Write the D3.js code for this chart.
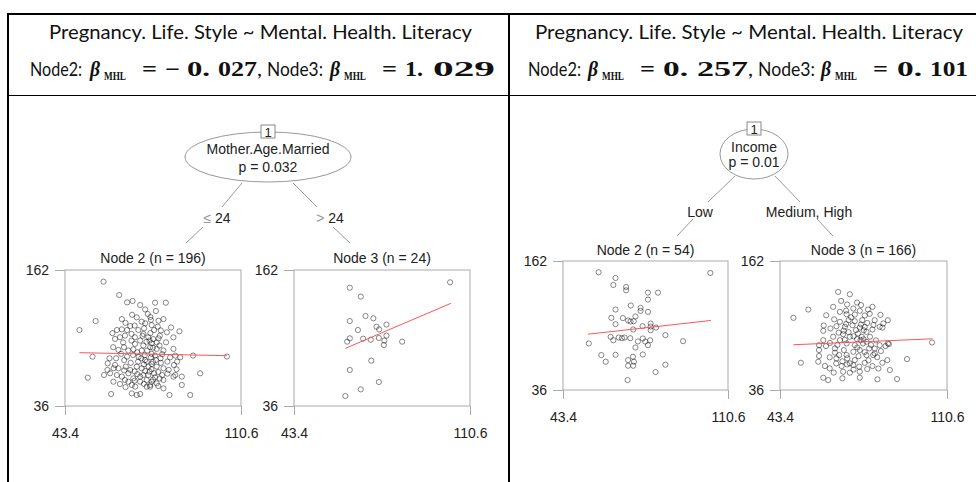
<!DOCTYPE html>
<html>
<head>
<meta charset="utf-8">
<script src="https://cdn.jsdelivr.net/npm/d3@7"></script>
<style>
  body { margin: 0; background: #fff; }
  svg { display: block; }
</style>
</head>
<body>
<div id="chart"></div>
<script>
// header texts
var headerTitle = 'Pregnancy. Life. Style ~ Mental. Health. Literacy';
var betaLeft = [-0.027, 1.029];
var betaRight = [0.257, 0.101];

// tree info
var xDomain = [43.4, 110.6];
var yDomain = [36, 162];
var leftSplit = ['Mother.Age.Married', 'p = 0.032'];
var leftEdges = [['\u2264', ' 24'], ['>', ' 24']];
var leftN = [196, 24];
var rightSplit = ['Income', 'p = 0.01'];
var rightEdges = [['', 'Low'], ['', 'Medium, High']];
var rightN = [54, 166];

// points [Mental.Health.Literacy, Pregnancy.Life.Style]
var leftNode2 = [[58.1,151.2],[64.1,138.8],[67.1,132.0],[69.2,133.3],[72.1,129.6],[77.8,131.7],[81.9,131.7],[78.1,124.0],[75.0,121.2],[70.8,118.1],[55.1,114.7],[48.9,106.4],[65.1,116.5],[63.2,106.4],[65.1,107.0],[68.3,110.1],[72.7,114.1],[74.0,112.6],[76.5,111.0],[81.0,116.5],[79.1,115.0],[83.9,108.8],[87.1,105.2],[84.8,99.6],[82.3,104.3],[79.6,101.1],[77.1,98.0],[78.4,94.9],[76.5,94.1],[75.2,99.7],[73.3,102.8],[71.4,106.4],[68.8,102.8],[66.3,101.2],[64.4,99.7],[62.5,98.1],[65.6,94.9],[68.8,96.6],[70.1,93.5],[73.3,92.0],[74.8,87.4],[76.5,84.3],[78.4,88.9],[81.0,87.4],[84.8,88.9],[85.5,82.7],[87.4,81.2],[92.3,82.7],[105.2,81.8],[53.9,81.7],[61.8,90.5],[63.8,88.0],[64.8,84.3],[60.4,80.2],[62.9,80.2],[67.1,81.7],[69.4,83.3],[72.5,80.2],[71.3,77.1],[74.0,78.6],[76.2,81.1],[78.1,78.6],[79.9,80.2],[82.5,77.1],[85.0,74.0],[86.2,77.1],[59.7,75.5],[62.5,74.0],[59.6,69.4],[60.6,66.3],[63.8,70.9],[66.6,72.5],[68.3,69.4],[70.8,72.5],[72.7,70.9],[75.3,72.5],[76.4,70.1],[78.4,72.5],[81.0,70.9],[83.0,69.4],[63.2,64.7],[65.1,63.2],[67.6,66.3],[69.5,61.6],[72.1,63.2],[75.2,64.7],[77.8,62.6],[80.5,64.7],[84.8,63.2],[85.5,64.7],[88.0,63.2],[95.0,66.3],[52.1,62.2],[61.9,58.5],[64.4,56.4],[67.6,58.5],[70.2,53.9],[72.1,58.5],[75.9,55.5],[78.4,57.0],[81.0,60.1],[88.0,55.5],[61.0,47.1],[68.9,47.7],[70.8,46.2],[72.1,47.1],[75.9,53.9],[83.3,46.2],[91.2,46.2],[81.0,52.3],[74.6,53.9],[75.7,96.6],[77.4,106.4],[79.1,98.7],[75.9,90.5],[77.8,82.7],[74.6,77.1],[76.5,74.9],[75.7,67.8],[77.4,66.3],[74.6,60.1],[76.5,58.5],[71.0,85.8],[72.7,87.4],[67.6,87.4],[65.9,90.5],[70.1,99.7],[67.1,106.4],[73.6,108.0],[76.2,115.8],[72.1,96.6],[73.3,64.7],[68.9,55.5],[66.3,60.1],[58.3,64.7],
  [73.0,101.0],[76.0,103.5],[78.8,109.5],[70.0,110.5],[74.5,95.5],[79.5,92.0],[82.0,95.0],[69.5,88.5],[77.0,90.0],[80.5,84.0],[73.8,83.0],[71.5,81.5],[66.0,78.5],[68.5,76.0],[80.0,76.0],[83.5,81.0],[73.5,74.5],[77.0,77.0],[70.0,68.0],[74.0,68.5],[79.0,67.5],[82.5,66.0],[66.0,69.0],[71.0,65.5],[77.0,60.5],[79.5,61.5],[70.0,59.5],[73.5,56.5],[66.5,53.5],[79.0,54.5],[62.0,71.0],[86.0,70.0],[69.0,120.5],[74.0,125.5],[66.5,113.0],[61.5,103.5],[80.0,106.0],[76.0,118.5]];
var leftNode3 = [[64.7,145.6],[68.9,137.3],[103.0,150.6],[70.7,119.4],[73.7,117.2],[64.7,114.7],[74.9,109.5],[75.9,107.0],[78.7,111.4],[67.8,106.4],[64.7,98.7],[63.7,95.6],[69.8,98.4],[72.7,97.4],[75.8,99.0],[78.7,101.2],[77.9,96.6],[77.7,92.5],[84.7,95.6],[72.9,78.0],[64.7,69.4],[75.8,58.2],[68.9,51.4],[63.0,45.3]];
var rightNode2 = [[57.9,151.0],[103.4,150.3],[64.8,145.4],[63.9,138.6],[69.1,136.6],[69.1,133.4],[78.0,131.1],[82.1,131.1],[78.0,124.3],[71.0,118.5],[75.0,116.2],[75.0,113.3],[78.0,112.3],[64.8,114.6],[63.1,106.5],[67.8,106.2],[69.9,103.9],[72.2,103.2],[72.9,107.8],[64.8,100.3],[75.8,98.3],[79.1,100.9],[79.1,98.0],[81.3,97.0],[79.1,94.4],[72.0,95.1],[62.8,87.9],[63.9,84.6],[66.1,87.3],[67.4,86.6],[70.8,86.6],[73.9,83.4],[75.9,86.3],[78.9,84.6],[78.0,79.8],[85.1,89.6],[92.3,83.7],[53.9,81.5],[72.9,77.5],[59.0,70.1],[64.8,70.4],[60.8,63.6],[71.9,68.5],[69.9,65.2],[72.3,63.6],[75.9,70.7],[69.9,59.7],[72.0,59.7],[85.1,60.7],[81.1,53.5],[69.7,45.7],[70.9,102.9],[76.9,83.3],[68.5,87.3]];
var rightNode3 = [[66.8,131.8],[71.5,129.5],[54.8,114.6],[48.8,106.5],[64.8,117.2],[70.4,119.5],[74.4,121.4],[72.9,115.6],[67.5,112.3],[70.2,110.0],[73.5,109.7],[75.5,113.3],[78.8,114.6],[80.6,117.2],[83.8,109.4],[86.8,104.2],[81.5,104.2],[65.2,105.0],[67.5,102.6],[71.0,104.2],[73.5,103.2],[76.5,104.2],[60.8,93.8],[63.7,96.1],[66.1,98.3],[69.5,97.7],[72.6,99.3],[75.5,97.0],[77.5,97.7],[78.2,92.8],[80.6,95.1],[83.5,97.7],[84.6,97.0],[68.8,90.5],[71.5,88.0],[74.8,91.2],[64.8,88.0],[60.8,84.7],[59.1,79.8],[61.9,78.9],[67.5,84.7],[70.2,81.5],[73.5,79.8],[75.8,84.7],[78.2,83.1],[79.3,76.6],[81.5,71.7],[83.5,79.8],[85.9,78.9],[86.8,81.5],[87.2,80.8],[104.6,82.4],[59.1,75.0],[59.1,69.2],[58.8,63.6],[51.8,62.6],[63.4,67.9],[66.1,66.8],[70.2,70.1],[72.9,73.3],[75.5,75.0],[78.2,70.1],[80.9,70.1],[86.6,65.2],[84.6,62.6],[94.5,66.2],[61.5,59.4],[63.4,57.1],[68.2,59.4],[72.9,60.4],[75.3,58.8],[80.6,59.4],[87.6,55.5],[68.8,53.8],[71.5,52.9],[75.5,53.9],[60.8,48.0],[62.8,45.7],[68.5,47.4],[75.5,48.0],[82.6,46.4],[90.5,46.7],[74.4,85.7],[76.3,88.0],[77.1,94.4],[76.8,81.5],[79.6,88.0],[73.5,65.2],[71.5,62.0],[65.5,76.6],[67.2,70.1],[69.1,75.0],[70.4,61.0],[77.5,108.8],[79.5,110.4],
  [70.0,100.5],[72.0,107.0],[74.0,94.5],[76.0,100.0],[78.5,101.5],[81.0,99.5],[69.0,94.0],[67.0,92.0],[71.0,92.5],[73.0,88.5],[77.0,85.5],[80.0,80.0],[82.0,84.5],[69.5,85.0],[66.5,80.0],[63.5,82.0],[74.5,77.5],[77.5,73.0],[81.5,76.5],[84.0,74.0],[65.5,72.5],[70.5,67.0],[75.0,69.0],[79.0,65.0],[82.5,68.0],[66.0,62.0],[68.5,64.0],[77.5,62.5],[73.0,56.0],[78.5,56.5],[65.0,53.0],[83.0,57.0],[70.0,113.5],[76.0,119.0],[68.0,123.0],[62.0,109.0],[85.0,101.0],[61.0,99.0]];

// fitted lines, end points
var leftNode2FitX = [48.9, 105.2], leftNode2FitY = [85.4, 82.6];
var leftNode3FitX = [63.0, 103.3], leftNode3FitY = [89.4, 131.1];
var rightNode2FitX = [53.6, 103.6], rightNode2FitY = [90.5, 103.9];
var rightNode3FitX = [48.8, 104.8], rightNode3FitY = [80.2, 86.0];

var W = 976, H = 482;
var svg = d3.select('#chart').append('svg')
    .attr('width', W)
    .attr('height', H);

var sans = "'Liberation Sans', Arial, sans-serif";
var cal = "Lato, 'Open Sans', sans-serif";
var serif = "'Liberation Serif', 'DejaVu Serif', serif";

// ---- table lines
var grid = svg.append('g').attr('stroke', '#000');
grid.append('line').attr('x1', 7).attr('x2', W).attr('y1', 14).attr('y2', 14).attr('stroke-width', 2);
grid.append('line').attr('x1', 8).attr('x2', 8).attr('y1', 13).attr('y2', H).attr('stroke-width', 2);
grid.append('line').attr('x1', 509).attr('x2', 509).attr('y1', 13).attr('y2', H).attr('stroke-width', 2);
grid.append('line').attr('x1', 8).attr('x2', W).attr('y1', 95.5).attr('y2', 95.5).attr('stroke-width', 1.2);

// ---- header
function seg(x, y, txt, len, family, size, weight, style) {
  svg.append('text')
    .attr('x', x).attr('y', y)
    .attr('textLength', len)
    .attr('lengthAdjust', 'spacingAndGlyphs')
    .style('font-family', family)
    .style('font-size', size + 'px')
    .style('font-weight', weight || 'normal')
    .style('font-style', style || 'normal')
    .attr('fill', '#111')
    .text(txt);
}

var fmt = d3.format('.3f');
function splitNum(v) {
  var s = fmt(v);
  var i = s.indexOf('.');
  return [s.slice(0, i + 1), s.slice(i + 1)];
}

function header(pos, betas) {
  seg(pos.title[0], 39, headerTitle, pos.title[1], cal, 19);
  var b = 76;
  [0, 1].forEach(function(k) {
    var p = pos.parts[k];
    seg(p.node[0], b, 'Node' + (k + 2) + ':', p.node[1], cal, 19);
    seg(p.beta[0], b, '\u03b2', p.beta[1], serif, 20, 'bold', 'italic');
    seg(p.sub[0], b + 4, 'MHL', p.sub[1], serif, 12, 'bold');
    seg(p.eq[0], b, '=', p.eq[1], serif, 21, 'bold');
    var n = splitNum(betas[k]);
    var s = n[0];
    if (s.charAt(0) == '\u2212' || s.charAt(0) == '-') {
      seg(p.minus[0], b, '\u2212', p.minus[1], serif, 21, 'bold');
      s = s.slice(1);
    }
    seg(p.ip[0], b, s, p.ip[1], serif, 21, 'bold');
    seg(p.dp[0], b, n[1], p.dp[1], serif, 21, 'bold');
    if (k == 0) seg(p.comma[0], b, ',', p.comma[1], cal, 19);
  });
}

header({
  title: [49, 423],
  parts: [
    {node: [30, 52], beta: [90, 10], sub: [104, 22], eq: [142, 15], minus: [165, 15], ip: [187, 23], dp: [218, 39], comma: [257, 5]},
    {node: [267, 56], beta: [330, 10], sub: [344, 22], eq: [382, 15], ip: [405, 18], dp: [433, 62]}
  ]
}, betaLeft);

header({
  title: [535, 428],
  parts: [
    {node: [528, 53], beta: [588, 10], sub: [602, 22], eq: [640, 15], ip: [663, 25], dp: [697, 51], comma: [748, 5]},
    {node: [758, 57], beta: [821, 10], sub: [835, 22], eq: [873, 15], ip: [897, 25], dp: [930, 38]}
  ]
}, betaRight);

// ---- tree drawing
function treeTop(cx, cy, rx, ry, split, labelY) {
  var g = svg.append('g');
  g.append('ellipse').attr('cx', cx).attr('cy', cy).attr('rx', rx).attr('ry', ry)
    .attr('fill', '#fff').attr('stroke', '#999').attr('stroke-width', 1);
  g.append('rect').attr('x', cx - 7).attr('y', cy - ry - 7).attr('width', 14).attr('height', 13)
    .attr('fill', '#fff').attr('stroke', '#888').attr('stroke-width', 1);
  g.append('text').attr('x', cx).attr('y', cy - ry + 4.5).attr('text-anchor', 'middle')
    .style('font-family', sans).style('font-size', '13px').attr('fill', '#222').text('1');
  g.selectAll('text.sp').data(split).enter().append('text')
    .attr('class', 'sp')
    .attr('x', cx).attr('y', function(d, i) { return labelY[i]; })
    .attr('text-anchor', 'middle')
    .style('font-family', sans).style('font-size', '14px').attr('fill', '#222')
    .text(function(d) { return d; });
}

function edge(segs, label, lx, ly) {
  segs.forEach(function(s) {
    svg.append('line').attr('x1', s[0]).attr('y1', s[1]).attr('x2', s[2]).attr('y2', s[3])
      .attr('stroke', '#999').attr('stroke-width', 1);
  });
  var t = svg.append('text').attr('x', lx).attr('y', ly).attr('text-anchor', 'middle')
    .style('font-family', sans).style('font-size', '14px').attr('fill', '#222');
  if (label[0]) t.append('tspan').attr('fill', '#999').text(label[0]);
  t.append('tspan').text(label[1]);
}

function scatter(box, pts, fitX, fitY, n, nodeId, titleY) {
  var x = d3.scaleLinear().domain(xDomain).range([box[0], box[1]]);
  var y = d3.scaleLinear().domain(yDomain).range([box[3], box[2]]);
  var g = svg.append('g');

  g.append('text')
    .attr('x', (box[0] + box[1]) / 2).attr('y', titleY)
    .attr('text-anchor', 'middle')
    .style('font-family', sans).style('font-size', '14px').attr('fill', '#222')
    .text('Node ' + nodeId + ' (n = ' + n + ')');

  g.append('rect')
    .attr('x', box[0]).attr('y', box[2])
    .attr('width', box[1] - box[0]).attr('height', box[3] - box[2])
    .attr('fill', 'none').attr('stroke', '#aaa').attr('stroke-width', 1);

  var ya = g.append('g')
    .attr('transform', 'translate(' + box[0] + ',0)')
    .call(d3.axisLeft(y).tickValues(yDomain).tickSize(10).tickPadding(6).tickFormat(d3.format('d')));
  var xa = g.append('g')
    .attr('transform', 'translate(0,' + box[3] + ')')
    .call(d3.axisBottom(x).tickValues(xDomain).tickSize(9).tickPadding(13).tickFormat(d3.format('.1f')));
  [ya, xa].forEach(function(a) {
    a.select('.domain').remove();
    a.selectAll('line').attr('stroke', '#aaa');
    a.selectAll('text').style('font-family', sans).style('font-size', '14px').attr('fill', '#222');
  });

  g.selectAll('circle').data(pts).enter().append('circle')
    .attr('cx', function(d) { return x(d[0]); })
    .attr('cy', function(d) { return y(d[1]); })
    .attr('r', 2.6)
    .attr('fill', 'none')
    .attr('stroke', '#000')
    .attr('stroke-opacity', 0.55)
    .attr('stroke-width', 0.85);

  g.append('line')
    .attr('x1', x(fitX[0])).attr('y1', y(fitY[0]))
    .attr('x2', x(fitX[1])).attr('y2', y(fitY[1]))
    .attr('stroke', '#f55').attr('stroke-width', 1);
}

// left tree
edge([[242, 183, 222, 207], [203, 227, 186, 243]], leftEdges[0], 217, 223);
edge([[293, 183, 317, 207], [333, 227, 350, 243]], leftEdges[1], 330, 223);
treeTop(268, 157, 83, 25, leftSplit, [154, 172]);
scatter([65, 241, 270, 406], leftNode2, leftNode2FitX, leftNode2FitY, leftN[0], 2, 263);
scatter([294, 470, 270, 406], leftNode3, leftNode3FitX, leftNode3FitY, leftN[1], 3, 263);

// right tree
edge([[735, 176, 708, 202], [693, 219, 677, 236]], rightEdges[0], 700, 217);
edge([[775, 176, 800, 202], [817, 219, 833, 236]], rightEdges[1], 809, 217);
treeTop(754, 154, 34, 25, rightSplit, [152, 167]);
scatter([563, 728, 261, 390], rightNode2, rightNode2FitX, rightNode2FitY, rightN[0], 2, 255);
scatter([780, 947, 261, 390], rightNode3, rightNode3FitX, rightNode3FitY, rightN[1], 3, 255);
</script>
</body>
</html>
